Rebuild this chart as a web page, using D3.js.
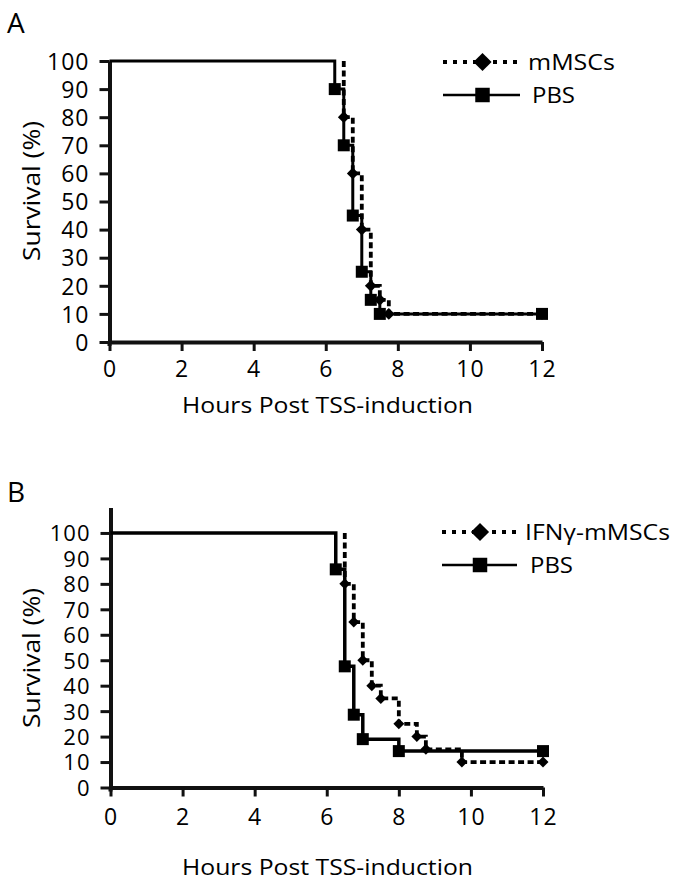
<!DOCTYPE html>
<html>
<head>
<meta charset="utf-8">
<script src="https://cdn.jsdelivr.net/npm/d3@7"></script>
<style>
  html, body { margin: 0; padding: 0; background: #fff; }
  svg text { font-family: "Open Sans", "DejaVu Sans", sans-serif; fill: #000; }
</style>
</head>
<body>
<svg id="chart" width="685" height="889"></svg>
<script>
// ---------- DATA ----------
const xTicks = [0, 2, 4, 6, 8, 10, 12];
const yTicks = [0, 10, 20, 30, 40, 50, 60, 70, 80, 90, 100];

// Panel A
const hoursA_MSC = [0, 6.5, 6.75, 7, 7.25, 7.5, 7.75, 12];
const survA_MSC  = [100, 80, 60, 40, 20, 15, 10, 10];
const hoursA_PBS = [0, 6.25, 6.5, 6.75, 7, 7.25, 7.5, 12];
const survA_PBS  = [100, 90, 70, 45, 25, 15, 10, 10];

// Panel B
const hoursB_IFN = [0, 6.5, 6.75, 7, 7.25, 7.5, 8, 8.5, 8.75, 9.75, 12];
const survB_IFN  = [100, 80, 65, 50, 40, 35, 25, 20, 15, 10, 10];
const hoursB_PBS = [0, 6.25, 6.5, 6.75, 7, 8, 12];
const survB_PBS  = [100, 85.7, 47.6, 28.6, 19.0, 14.3, 14.3];

const labelsA = ["mMSCs", "PBS"];
const labelsB = ["IFNγ-mMSCs", "PBS"];

// ---------- DRAW ----------
const svg = d3.select("#chart");

function zip(h, s) { return h.map((t, i) => ({t, s: s[i]})); }

function panel(cfg) {
  const x = d3.scaleLinear().domain([0, 12]).range(cfg.xr);
  const y = d3.scaleLinear().domain([0, cfg.yMax]).range(cfg.yr);
  const g = svg.append("g");

  g.append("text").attr("x", 7).attr("y", cfg.letterY)
    .attr("font-size", 28).text(cfg.letter);

  // x axis
  const xa = g.append("g").attr("transform", `translate(0,${cfg.yr[0]})`)
    .call(d3.axisBottom(x).tickValues(xTicks).tickSize(9).tickSizeOuter(0).tickFormat(d3.format("d")));
  xa.select(".domain").attr("stroke", "#111").attr("stroke-width", 4);
  xa.selectAll(".tick line").attr("stroke", "#111").attr("stroke-width", 3);
  xa.selectAll(".tick text").attr("y", cfg.xLabDy).attr("dy", 0)
    .attr("font-size", 23).attr("letter-spacing", 1)
    .attr("font-family", '"Open Sans", sans-serif').attr("fill", "#000");

  // y axis
  const ya = g.append("g").attr("transform", `translate(${cfg.xr[0]},0)`)
    .call(d3.axisLeft(y).tickValues(yTicks).tickSize(10).tickSizeOuter(0).tickFormat(d3.format("d")));
  ya.select(".domain").attr("stroke", "#111").attr("stroke-width", 4);
  ya.selectAll(".tick line").attr("stroke", "#111").attr("stroke-width", 3);
  ya.selectAll(".tick text").attr("x", -20).attr("dy", "0.36em")
    .attr("font-size", cfg.yFont).attr("letter-spacing", 1)
    .attr("font-family", '"Open Sans", sans-serif').attr("fill", "#000");
  g.append("line").attr("x1", cfg.xr[0]).attr("x2", cfg.xr[0])
    .attr("y1", cfg.yr[0]).attr("y2", cfg.yr[0] + 4)
    .attr("stroke", "#111").attr("stroke-width", 4);

  // axis titles
  g.append("text").attr("x", 182).attr("y", cfg.xTitleY)
    .attr("font-size", 22).attr("textLength", 291).attr("lengthAdjust", "spacingAndGlyphs")
    .text("Hours Post TSS-induction");
  g.append("text")
    .attr("transform", `translate(40,${cfg.yTitleC}) rotate(-90)`)
    .attr("text-anchor", "middle").attr("font-size", 24)
    .attr("textLength", 140).attr("lengthAdjust", "spacingAndGlyphs")
    .text("Survival (%)");

  const line = d3.line().x(d => x(d.t)).y(d => y(d.s)).curve(d3.curveStepAfter);
  const diamond = d3.symbol().type(d3.symbolSquare).size(cfg.dSize);
  const square = d3.symbol().type(d3.symbolSquare).size(cfg.sSize);

  const pbs = zip(cfg.pbsH, cfg.pbsS);
  const trt = zip(cfg.trtH, cfg.trtS);

  // PBS solid
  g.append("path").attr("d", line(pbs)).attr("fill", "none")
    .attr("stroke", "#000").attr("stroke-width", cfg.solidW);
  g.selectAll(".sq").data(pbs.slice(1)).join("path")
    .attr("d", square).attr("transform", d => `translate(${x(d.t)},${y(d.s)})`)
    .attr("fill", "#000");

  // treatment dotted (the shared 100% plateau is drawn by the solid line)
  g.append("path").attr("d", line(trt.slice(1).map((d, i) => i === 0 ? d : d)))
    .attr("fill", "none").attr("stroke", "#000").attr("stroke-width", 3.8)
    .attr("stroke-dasharray", "6,3.5");
  g.append("path")
    .attr("d", d3.line().x(d => x(d.t)).y(d => y(d.s))([{t: trt[1].t, s: trt[0].s}, trt[1]]))
    .attr("fill", "none").attr("stroke", "#000").attr("stroke-width", 3.8)
    .attr("stroke-dasharray", "6,3.5");
  g.selectAll(".dm").data(trt.slice(1)).join("path")
    .attr("d", diamond).attr("transform", d => `translate(${x(d.t)},${y(d.s)}) rotate(45)`)
    .attr("fill", "#000");

  // legend
  const L = cfg.legend;
  g.append("line").attr("x1", L.x1).attr("x2", L.x2).attr("y1", L.y1).attr("y2", L.y1)
    .attr("stroke", "#000").attr("stroke-width", 4).attr("stroke-dasharray", "4,6");
  g.append("path").attr("d", d3.symbol().type(d3.symbolSquare).size(165))
    .attr("transform", `translate(${L.mx},${L.y1}) rotate(45)`).attr("fill", "#000");
  g.append("text").attr("x", L.t1x).attr("y", L.y1 + 7.5).attr("font-size", 21)
    .attr("textLength", L.t1w).attr("lengthAdjust", "spacingAndGlyphs").text(cfg.labels[0]);

  g.append("line").attr("x1", L.x1).attr("x2", L.x2b).attr("y1", L.y2).attr("y2", L.y2)
    .attr("stroke", "#000").attr("stroke-width", 2.6);
  g.append("path").attr("d", d3.symbol().type(d3.symbolSquare).size(210))
    .attr("transform", `translate(${L.mx},${L.y2})`).attr("fill", "#000");
  g.append("text").attr("x", L.t2x).attr("y", L.y2 + 8).attr("font-size", 21)
    .attr("textLength", 43).attr("lengthAdjust", "spacingAndGlyphs").text(cfg.labels[1]);
}

panel({
  letter: "A", letterY: 33,
  xr: [109.5, 542], yr: [342, 61], yMax: 100,
  xLabDy: 35, xTitleY: 413, yTitleC: 191, yFont: 23,
  pbsH: hoursA_PBS, pbsS: survA_PBS, trtH: hoursA_MSC, trtS: survA_MSC,
  solidW: 3, dSize: 70, sSize: 144,
  labels: labelsA,
  legend: {x1: 443, x2: 520, x2b: 520, y1: 62, y2: 95, mx: 482.5, t1x: 528, t1w: 87, t2x: 532}
});

panel({
  letter: "B", letterY: 502,
  xr: [110.5, 543], yr: [787.5, 507.5], yMax: 110,
  xLabDy: 37, xTitleY: 875, yTitleC: 658, yFont: 22,
  pbsH: hoursB_PBS, pbsS: survB_PBS, trtH: hoursB_IFN, trtS: survB_IFN,
  solidW: 3.5, dSize: 60, sSize: 144,
  labels: labelsB,
  legend: {x1: 442, x2: 520, x2b: 517, y1: 532, y2: 565, mx: 480, t1x: 525, t1w: 145, t2x: 530}
});
</script>
</body>
</html>
